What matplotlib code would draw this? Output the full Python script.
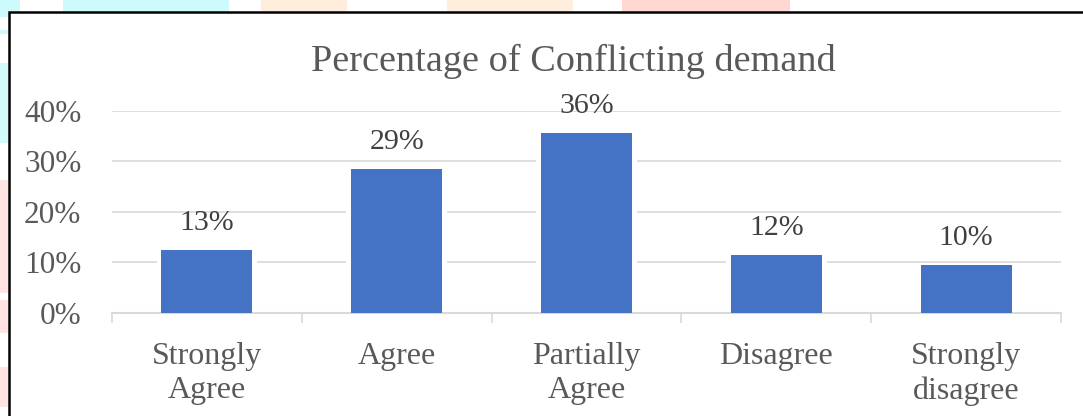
import matplotlib
matplotlib.use("Agg")
import matplotlib.pyplot as plt
from matplotlib.patches import Rectangle

# data
categories = ["Strongly\nAgree", "Agree", "Partially\nAgree", "Disagree", "Strongly\ndisagree"]
values = [0.124, 0.285, 0.356, 0.114, 0.095]
value_labels = ["13%", "29%", "36%", "12%", "10%"]
y_ticks = [0, 0.1, 0.2, 0.3, 0.4]
y_tick_labels = ["0%", "10%", "20%", "30%", "40%"]

W, H = 1083, 416
plt.rcParams['font.family'] = ['Liberation Serif', 'DejaVu Serif']
text_color = "#595959"
grid_color = "#d9d9d9"
bar_color = "#4472c4"

fig = plt.figure(figsize=(W / 100, H / 100), dpi=100)

# faint background blobs peeking out around the frame (pixel boxes: x0, y0, x1, y1)
blobs = [
    (0, 0, 20, 17, "#cdfafa"), (0, 30, 8, 34, "#cdfafa"), (0, 63, 8, 143, "#d3fafa"),
    (63, 0, 229, 12, "#cdfafa"), (261, 0, 347, 12, "#ffeedd"), (447, 0, 573, 12, "#ffeedd"),
    (622, 0, 790, 12, "#ffd8d2"),
    (0, 180, 8, 293, "#ffe3e3"), (0, 300, 8, 333, "#ffe3e3"), (0, 367, 8, 407, "#ffe3e3"),
]
for x0, y0, x1, y1, c in blobs:
    fig.patches.append(Rectangle((x0 / W, 1 - y1 / H), (x1 - x0) / W, (y1 - y0) / H,
                                 transform=fig.transFigure, facecolor=c, edgecolor="none", zorder=0))

# chart frame (runs off the right and bottom edge)
fig.patches.append(Rectangle((9 / W, -0.05), 1.05, 1.05 - 11.5 / H, transform=fig.transFigure,
                             facecolor="white", edgecolor="black", linewidth=1.8, zorder=0.5))

ax = fig.add_axes([112 / W, (H - 313) / H, (1061 - 112) / W, (313 - 110.5) / H])
ax.set_zorder(2)
ax.set_facecolor("none")
x = range(len(categories))

# white backing so gridlines break around the bars
ax.bar(x, [v + 0.003 for v in values], width=0.53, color="white", zorder=2)
ax.bar(x, values, width=0.48, color=bar_color, zorder=3)

for xi, v, lab in zip(x, values, value_labels):
    ax.annotate(lab, (xi, v), xytext=(0, 10), textcoords="offset points",
                ha="center", va="bottom", fontsize=21.5, color="#404040", zorder=4)

ax.set_xlim(-0.5, len(categories) - 0.5)
ax.set_ylim(0, 0.4)
ax.set_yticks(y_ticks)
ax.set_yticklabels(y_tick_labels, fontsize=22.5, color=text_color)
ax.yaxis.grid(True, color=grid_color, linewidth=1.2, zorder=1)
ax.set_axisbelow(True)
ax.tick_params(axis="y", length=0, pad=22)

ax.set_xticks([i - 0.5 for i in range(len(categories) + 1)])
ax.set_xticklabels([])
ax.set_xticks(list(x), minor=True)
ax.set_xticklabels(categories, minor=True, fontsize=23, color=text_color, linespacing=1.22)
ax.tick_params(axis="x", which="major", length=7, color=grid_color, width=1.2)
ax.tick_params(axis="x", which="minor", length=0, pad=21)

for s in ["top", "right", "left"]:
    ax.spines[s].set_visible(False)
ax.spines["bottom"].set_color(grid_color)
ax.spines["bottom"].set_linewidth(1.5)

fig.text(573 / W, 1 - 61 / H, "Percentage of Conflicting demand", ha="center", va="center",
         fontsize=27.5, color=text_color, zorder=3)

fig.savefig("out.png", dpi=100)
